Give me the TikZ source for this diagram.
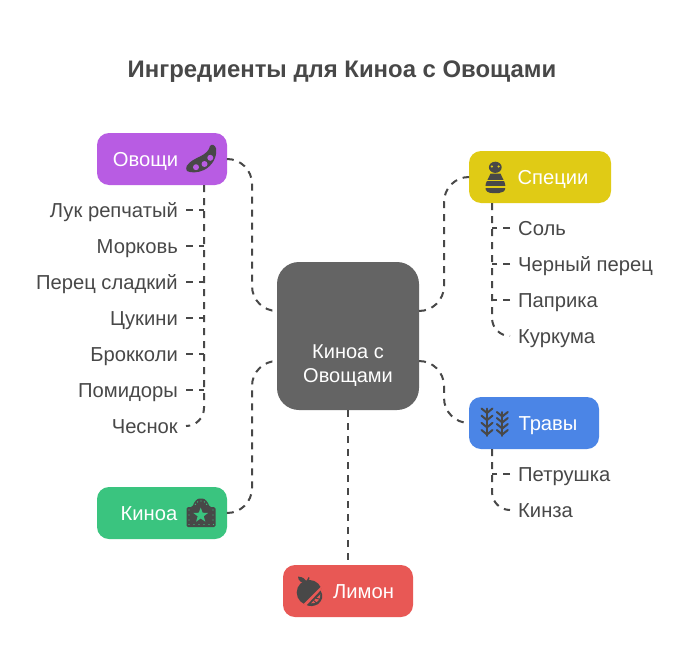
\documentclass[tikz,border=0pt]{standalone}
\usepackage{fontspec}
\setmainfont{Liberation Sans}
\definecolor{ink}{HTML}{484848}
\definecolor{cpurple}{HTML}{B85CE3}
\definecolor{cyellow}{HTML}{E0CB15}
\definecolor{cblue}{HTML}{4B85E6}
\definecolor{cgreen}{HTML}{3AC47F}
\definecolor{cred}{HTML}{E85855}
\definecolor{ccenter}{HTML}{646464}
\tikzset{
  box/.style={fill=#1,rounded corners=12pt,minimum width=130pt,minimum height=52pt,inner sep=0pt},
  hub/.style={fill=ccenter,rounded corners=22pt,minimum width=142pt,minimum height=148pt,inner sep=0pt},
  boxtext/.style={text=white,font=\fontsize{20.2}{24}\selectfont,inner sep=0pt,text height=16.5pt,text depth=2.5pt},
  leafL/.style={text=ink,font=\fontsize{20.2}{24}\selectfont,anchor=east,inner ysep=0pt,inner xsep=8pt,text height=16.5pt,text depth=2.5pt},
  leafR/.style={text=ink,font=\fontsize{20.2}{24}\selectfont,anchor=west,inner ysep=0pt,inner xsep=8pt,text height=16.5pt,text depth=2.5pt},
  conn/.style={draw=ink,line width=2pt,dash pattern=on 7pt off 6pt},
  curved/.style={conn,rounded corners=25pt},
  curvedS/.style={conn,rounded corners=18pt},
}
\begin{document}
\begin{tikzpicture}[x=1pt,y=-1pt]
\useasboundingbox (0,0) rectangle (684,666);
\fill[white] (0,0) rectangle (684,666);

\node[text=ink,font=\bfseries\fontsize{23.9}{28}\selectfont,inner sep=0pt] (title) at (342,72) {Ингредиенты для Киноа с Овощами};

% boxes
\node[hub] (hub) at (348,336) {};
\node[box=cpurple] (veg) at (162,159) {};
\node[box=cyellow,minimum width=142pt] (spice) at (540,177) {};
\node[box=cblue] (herb) at (534,423) {};
\node[box=cgreen] (quinoa) at (162,513) {};
\node[box=cred] (lemon) at (348,591) {};

% box labels
\node[text=white,font=\fontsize{20}{24}\selectfont,align=center,inner sep=0pt] (hubtext) at (348,366) {Киноа с\\Овощами};
\node[boxtext] (vegtext) at (145.5,159) {Овощи};
\node[boxtext] (spicetext) at (553,177) {Специи};
\node[boxtext] (herbtext) at (548,423) {Травы};
\node[boxtext] (quinoatext) at (149,513) {Киноа};
\node[boxtext] (lemontext) at (363.5,591) {Лимон};

% leaves
\node[leafL] (v1) at (186,210) {Лук репчатый};
\node[leafL] (v2) at (186,246) {Морковь};
\node[leafL] (v3) at (186,282) {Перец сладкий};
\node[leafL] (v4) at (186,318) {Цукини};
\node[leafL] (v5) at (186,354) {Брокколи};
\node[leafL] (v6) at (186,390) {Помидоры};
\node[leafL] (v7) at (186,426) {Чеснок};
\node[leafR] (s1) at (510,228) {Соль};
\node[leafR] (s2) at (510,264) {Черный перец};
\node[leafR] (s3) at (510,300) {Паприка};
\node[leafR] (s4) at (510,336) {Куркума};
\node[leafR] (h1) at (510,474) {Петрушка};
\node[leafR] (h2) at (510,510) {Кинза};

% helper coordinates
\coordinate (hubL1) at (277,311);
\coordinate (hubL2) at (277,361);
\coordinate (hubR1) at (419,311);
\coordinate (hubR2) at (419,361);
\coordinate (busL) at (252,300);
\coordinate (busR) at (444,300);
\coordinate (vegT) at (204,185);
\coordinate (spiceT) at (492,203);
\coordinate (herbT) at (492,449);

% main connectors
\draw[curved] (veg.east) -- (veg.east -| busL) -- (busL |- hubL1) -- (hubL1);
\draw[curved] (quinoa.east) -- (quinoa.east -| busL) -- (busL |- hubL2) -- (hubL2);
\draw[curved] (hubR1) -- (busR |- hubR1) -- (busR |- spice.west) -- (spice.west);
\draw[curved] (hubR2) -- (busR |- hubR2) -- (busR |- herb.west) -- (herb.west);
\draw[conn] (hub.south) -- (lemon.north);

% vegetable bus
\draw[curvedS] (vegT) -- (vegT |- v7.east) -- (v7.east);
\foreach \n in {v1,v2,v3,v4,v5,v6}{\draw[conn] (\n.east) -- (\n.east -| vegT);}
% spice bus
\draw[curvedS] (spiceT) -- (spiceT |- s4.west) -- (s4.west);
\foreach \n in {s1,s2,s3}{\draw[conn] (\n.west) -- (\n.west -| spiceT);}
% herb bus
\draw[curvedS] (herbT) -- (herbT |- h2.west) -- (h2.west);
\draw[conn] (h1.west) -- (h1.west -| herbT);

% pea pod icon
\fill[ink] (186.7,166) .. controls (190,161) and (195,159) .. (200,156.5)
  .. controls (205,154) and (209,151) .. (210,146)
  .. controls (212,143.5) and (215,145) .. (216,148.5)
  .. controls (217.5,157) and (212,166) .. (204,170)
  .. controls (198,173) and (190,173) .. (187,171)
  .. controls (186,169.5) and (186,168) .. (186.7,166) -- cycle;
\fill[cpurple] (196,167.2) circle (3) (204.5,164) circle (3) (210.3,157.8) circle (3);

% salt shaker icon
\fill[ink] (495.3,167.3) ellipse (6.4 and 5.6);
\fill[ink] (490.5,173.5) -- (500.5,173.5) .. controls (502,178) and (505.5,182) .. (505.5,187)
  .. controls (505.5,191.5) and (502,193) .. (499,193) -- (492,193)
  .. controls (488.5,193) and (485.3,191.5) .. (485.3,187)
  .. controls (485.3,182) and (489,178) .. (490.5,173.5) -- cycle;
\fill[cyellow] (491.8,166.5) circle (1.2) (498.6,166.5) circle (1.2);
\fill[cyellow] (484,179.5) rectangle (507,181.3);
\fill[cyellow] (484,186) rectangle (507,187.8);

% herbs icon
\foreach \cx/\tp/\nn in {487/408.5/3,502.3/412/3}{
  \draw[ink,line width=1.9pt,line cap=round] (\cx,\tp) -- (\cx,436);
  \foreach \i in {0,...,\nn}{
    \pgfmathsetmacro{\yy}{\tp+1+\i*(436-\tp-6)/3}
    \draw[ink,line width=2pt,line cap=round] (\cx-5.5,\yy-1) .. controls (\cx-3,\yy+2) .. (\cx,\yy+3.5) .. controls (\cx+3,\yy+2) .. (\cx+5.5,\yy-1);
  }
}

% film / quinoa icon
\fill[ink,rounded corners=1.5pt] (186.5,527) -- (186.5,507) -- (192.5,507) .. controls (194,502) and (197,498.5) .. (200.8,498.5)
  .. controls (205,498.5) and (208,502) .. (209.5,507) -- (215.5,507) -- (215.5,527) -- cycle;
\fill[cgreen] (200.7,507.5)
  \foreach \a in {1,...,9}{ -- ({200.7+(mod(\a,2)==1 ? 3.2 : 7.8)*sin(36*\a)},{515.3-(mod(\a,2)==1 ? 3.2 : 7.8)*cos(36*\a)}) } -- cycle;
\foreach \px in {189,194,199,204,209,213.5}{\fill[cgreen] (\px,524.5) circle (0.7);}
\foreach \py in {510,515,520}{\fill[cgreen] (189,\py) circle (0.7);\fill[cgreen] (213,\py) circle (0.7);}
\foreach \a in {200,235,270,305,340}{\fill[cgreen] ({201+6*cos(\a)},{506+5*sin(\a)}) circle (0.7);}

% lemon icon
\fill[ink] (309.3,592.5) circle (12.6);
\fill[ink] (298,576.5) .. controls (303,577) and (306,579) .. (306.5,583) .. controls (302,583.5) and (298,581) .. (298,576.5) -- cycle;
\draw[ink,line width=1.4pt] (306,584) -- (309,577.5);
\fill[cred] (303.5,604) -- (321,586.5) -- (322.5,593) .. controls (322,600) and (314,606) .. (307,605.5) -- cycle;
\fill[ink] (306.8,605.2) -- (320.6,590.5) .. controls (324,596) and (322,601) .. (318,604) .. controls (314,606.5) and (310,606.5) .. (306.8,605.2) -- cycle;
\fill[cred] (311,603.3) -- (320.3,594.3) .. controls (321,599.5) and (316.5,604) .. (311,603.3) -- cycle;
\draw[ink,line width=1pt] (313.7,600.5) -- (317.5,604) (316,598.2) -- (321,599.5);
\end{tikzpicture}
\end{document}
